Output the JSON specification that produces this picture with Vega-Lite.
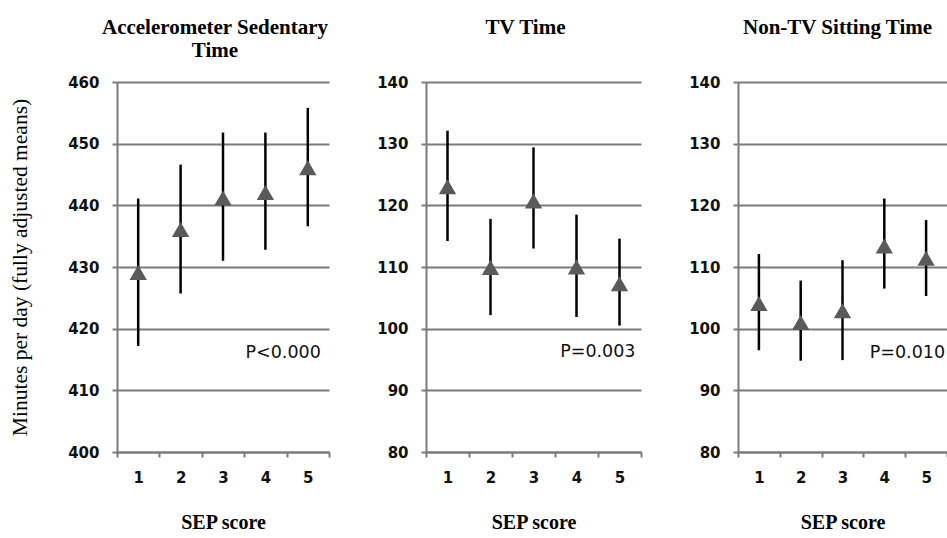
{
  "$schema": "https://vega.github.io/schema/vega-lite/v6.json",
  "padding": {"left": 9, "top": 17, "right": 0, "bottom": 0},
  "bounds": "flush",
  "spacing": 97,
  "datasets": {
    "d": [
      {"panel": "acc", "sep": 1, "mean": 429.1, "lo": 417.2, "hi": 441.1},
      {"panel": "acc", "sep": 2, "mean": 436.1, "lo": 425.7, "hi": 446.6},
      {"panel": "acc", "sep": 3, "mean": 441.2, "lo": 431.0, "hi": 451.8},
      {"panel": "acc", "sep": 4, "mean": 442.1, "lo": 432.8, "hi": 451.8},
      {"panel": "acc", "sep": 5, "mean": 446.1, "lo": 436.6, "hi": 455.8},
      {"panel": "tv", "sep": 1, "mean": 123.0, "lo": 114.2, "hi": 132.1},
      {"panel": "tv", "sep": 2, "mean": 109.9, "lo": 102.2, "hi": 117.8},
      {"panel": "tv", "sep": 3, "mean": 120.7, "lo": 113.0, "hi": 129.4},
      {"panel": "tv", "sep": 4, "mean": 110.0, "lo": 101.9, "hi": 118.5},
      {"panel": "tv", "sep": 5, "mean": 107.3, "lo": 100.5, "hi": 114.6},
      {"panel": "ntv", "sep": 1, "mean": 104.1, "lo": 96.5, "hi": 112.1},
      {"panel": "ntv", "sep": 2, "mean": 101.0, "lo": 94.8, "hi": 107.8},
      {"panel": "ntv", "sep": 3, "mean": 102.9, "lo": 94.9, "hi": 111.1},
      {"panel": "ntv", "sep": 4, "mean": 113.4, "lo": 106.5, "hi": 121.1},
      {"panel": "ntv", "sep": 5, "mean": 111.4, "lo": 105.3, "hi": 117.6}
    ],
    "p": [
      {"panel": "acc", "sep": 5, "y": 416, "label": "P<0.000"},
      {"panel": "tv", "sep": 5, "y": 96.2, "label": "P=0.003"},
      {"panel": "ntv", "sep": 5, "y": 96, "label": "P=0.010"}
    ]
  },
  "config": {
    "view": {"stroke": null},
    "axis": {
      "labelFont": "DejaVu Sans", "labelFontSize": 15, "labelFontWeight": "bold", "labelColor": "#111",
      "domainColor": "#7a7a7a", "domainWidth": 2,
      "tickColor": "#7a7a7a", "tickWidth": 2, "tickSize": 5,
      "gridColor": "#7a7a7a", "gridWidth": 2, "gridOpacity": 1,
      "titleFont": "Liberation Serif", "titleColor": "#000"
    },
    "title": {"font": "Liberation Serif", "fontSize": 21, "fontWeight": "bold", "color": "#000", "lineHeight": 23, "offset": 14}
  },
  "hconcat": [
    {
      "width": 212, "height": 370,
      "title": {"text": ["Accelerometer Sedentary", "Time"], "dx": -8},
      "encoding": {
        "x": {"field": "sep", "type": "ordinal", "scale": {"type": "band", "paddingInner": 0, "paddingOuter": 0},
          "axis": {"title": "SEP score", "labelAngle": 0, "tickBand": "extent", "grid": false, "labelPadding": 13, "titleFontSize": 20, "titleFontWeight": "bold", "titlePadding": 27}}
      },
      "layer": [
        {
          "data": {"name": "d"}, "transform": [{"filter": "datum.panel === 'acc'"}],
          "mark": {"type": "rule", "color": "#000", "strokeWidth": 2.5},
          "encoding": {
            "y": {"field": "lo", "type": "quantitative", "scale": {"domain": [400, 460], "nice": false, "zero": false},
              "axis": {"values": [400, 410, 420, 430, 440, 450, 460], "grid": true, "labelPadding": 13, "title": "Minutes per day (fully adjusted means)", "titleFontSize": 21.5, "titleFontWeight": "normal", "titlePadding": 36}},
            "y2": {"field": "hi"}
          }
        },
        {
          "data": {"name": "d"}, "transform": [{"filter": "datum.panel === 'acc'"}],
          "mark": {"type": "point", "shape": "triangle-up", "filled": true, "color": "#5a5a5a", "size": 300, "opacity": 1},
          "encoding": {"y": {"field": "mean", "type": "quantitative"}}
        },
        {
          "data": {"name": "p"}, "transform": [{"filter": "datum.panel === 'acc'"}],
          "mark": {"type": "text", "font": "DejaVu Sans", "fontSize": 17.5, "align": "right", "baseline": "middle", "dx": 13, "color": "#111"},
          "encoding": {"y": {"field": "y", "type": "quantitative"}, "text": {"field": "label"}}
        }
      ]
    },
    {
      "width": 215, "height": 370,
      "title": {"text": ["TV Time", " "], "dx": -8},
      "encoding": {
        "x": {"field": "sep", "type": "ordinal", "scale": {"type": "band", "paddingInner": 0, "paddingOuter": 0},
          "axis": {"title": "SEP score", "labelAngle": 0, "tickBand": "extent", "grid": false, "labelPadding": 13, "titleFontSize": 20, "titleFontWeight": "bold", "titlePadding": 27}}
      },
      "layer": [
        {
          "data": {"name": "d"}, "transform": [{"filter": "datum.panel === 'tv'"}],
          "mark": {"type": "rule", "color": "#000", "strokeWidth": 2.5},
          "encoding": {
            "y": {"field": "lo", "type": "quantitative", "scale": {"domain": [80, 140], "nice": false, "zero": false},
              "axis": {"values": [80, 90, 100, 110, 120, 130, 140], "grid": true, "labelPadding": 13, "title": null}},
            "y2": {"field": "hi"}
          }
        },
        {
          "data": {"name": "d"}, "transform": [{"filter": "datum.panel === 'tv'"}],
          "mark": {"type": "point", "shape": "triangle-up", "filled": true, "color": "#5a5a5a", "size": 300, "opacity": 1},
          "encoding": {"y": {"field": "mean", "type": "quantitative"}}
        },
        {
          "data": {"name": "p"}, "transform": [{"filter": "datum.panel === 'tv'"}],
          "mark": {"type": "text", "font": "DejaVu Sans", "fontSize": 17.5, "align": "right", "baseline": "middle", "dx": 16, "color": "#111"},
          "encoding": {"y": {"field": "y", "type": "quantitative"}, "text": {"field": "label"}}
        }
      ]
    },
    {
      "width": 209, "height": 370,
      "title": {"text": ["Non-TV Sitting Time", " "], "dx": -5},
      "encoding": {
        "x": {"field": "sep", "type": "ordinal", "scale": {"type": "band", "paddingInner": 0, "paddingOuter": 0},
          "axis": {"title": "SEP score", "labelAngle": 0, "tickBand": "extent", "grid": false, "labelPadding": 13, "titleFontSize": 20, "titleFontWeight": "bold", "titlePadding": 27}}
      },
      "layer": [
        {
          "data": {"name": "d"}, "transform": [{"filter": "datum.panel === 'ntv'"}],
          "mark": {"type": "rule", "color": "#000", "strokeWidth": 2.5},
          "encoding": {
            "y": {"field": "lo", "type": "quantitative", "scale": {"domain": [80, 140], "nice": false, "zero": false},
              "axis": {"values": [80, 90, 100, 110, 120, 130, 140], "grid": true, "labelPadding": 13, "title": null}},
            "y2": {"field": "hi"}
          }
        },
        {
          "data": {"name": "d"}, "transform": [{"filter": "datum.panel === 'ntv'"}],
          "mark": {"type": "point", "shape": "triangle-up", "filled": true, "color": "#5a5a5a", "size": 300, "opacity": 1},
          "encoding": {"y": {"field": "mean", "type": "quantitative"}}
        },
        {
          "data": {"name": "p"}, "transform": [{"filter": "datum.panel === 'ntv'"}],
          "mark": {"type": "text", "font": "DejaVu Sans", "fontSize": 17.5, "align": "right", "baseline": "middle", "dx": 19, "color": "#111"},
          "encoding": {"y": {"field": "y", "type": "quantitative"}, "text": {"field": "label"}}
        }
      ]
    }
  ]
}
